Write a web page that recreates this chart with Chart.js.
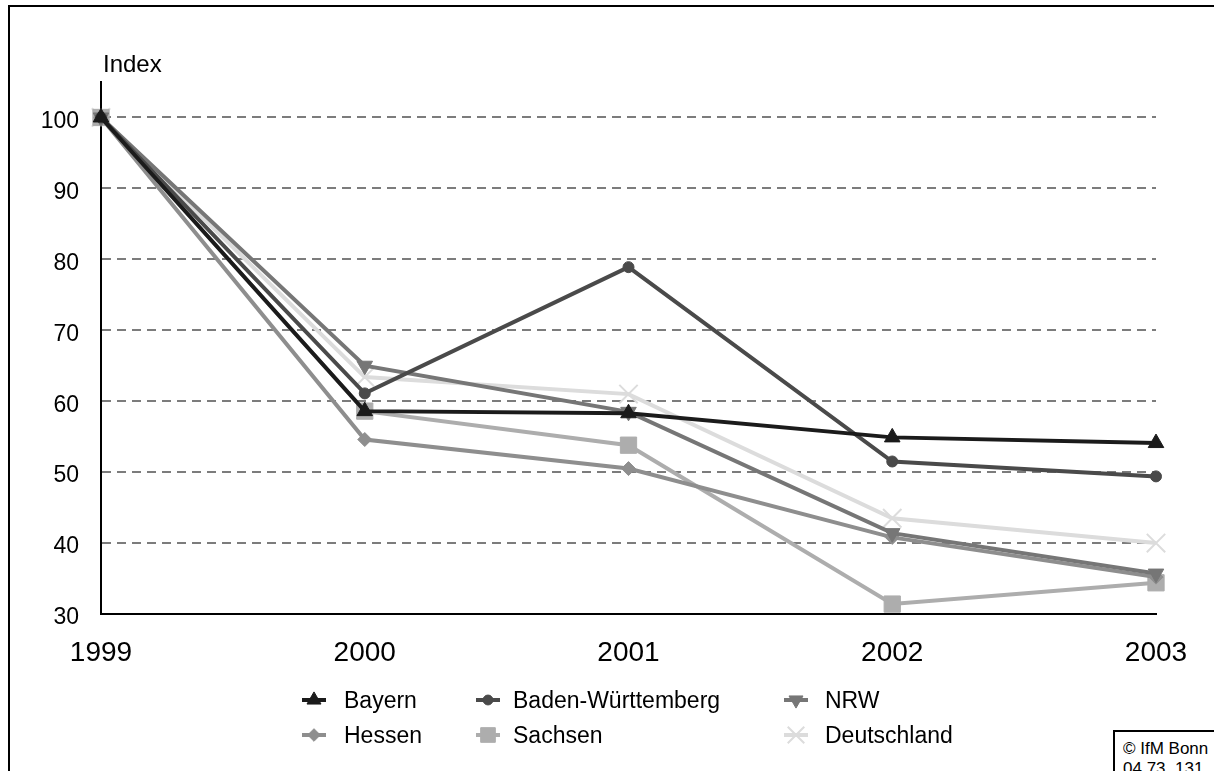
<!DOCTYPE html>
<html>
<head>
<meta charset="utf-8">
<title>Index 1999 = 100</title>
<script src="https://cdn.jsdelivr.net/npm/chart.js@4/dist/chart.umd.min.js"></script>
<style>
  html, body { margin: 0; padding: 0; background: #fff; }
  #wrap { position: relative; width: 1214px; height: 771px; overflow: hidden;
          font-family: "Liberation Sans", Arial, sans-serif; }
  #frame { position: absolute; left: 8px; top: 5px; width: 1300px; height: 900px;
           border-left: 2px solid #000; border-top: 2px solid #000; }
  #chart { position: absolute; left: 0; top: 0; }
  #credit { position: absolute; left: 1113px; top: 730px; width: 130px; height: 80px;
            border: 2px solid #000; box-sizing: border-box; background: #fff;
            padding: 7px 0 0 8px; font-size: 17px; line-height: 20px; color: #000; }
</style>
</head>
<body>
<div id="wrap">
  <div id="frame"></div>
  <canvas id="chart" width="1214" height="771"></canvas>
  <div id="credit">© IfM Bonn<br>04.73. 131</div>
</div>
<script>
// Years on the x axis
const years = ['1999', '2000', '2001', '2002', '2003'];

// Index values (1999 = 100) per region
const bayern            = [100, 58.6, 58.3, 54.9, 54.1];
const badenWuerttemberg = [100, 61.1, 78.9, 51.5, 49.4];
const nrw               = [100, 65.0, 58.5, 41.4, 35.7];
const hessen            = [100, 54.6, 50.5, 40.8, 35.2];
const sachsen           = [100, 58.6, 53.8, 31.4, 34.4];
const deutschland       = [100, 63.4, 61.0, 43.5, 40.0];

const seriesNames = ['Bayern', 'Baden-Württemberg', 'NRW', 'Hessen', 'Sachsen', 'Deutschland'];

// Labelled y ticks
const yTickValues = [30, 40, 50, 60, 70, 80, 90, 100];
const yAxisTitle = 'Index';

const FONT = '"Liberation Sans", Arial, sans-serif';

function series(label, data, color, style, radius, extra) {
  return Object.assign({
    label, data,
    borderColor: color,
    backgroundColor: color,
    borderWidth: 4,
    pointStyle: style,
    pointRadius: radius,
    pointHoverRadius: radius,
    pointBackgroundColor: color,
    pointBorderColor: color,
    pointBorderWidth: 1,
    tension: 0,
    clip: false
  }, extra || {});
}

const datasets = [
  series(seriesNames[0], bayern,            '#1b1b1b', 'triangle', 9),
  series(seriesNames[1], badenWuerttemberg, '#4a4a4a', 'circle',   5.5),
  series(seriesNames[2], nrw,               '#767676', 'triangle', 9, { pointRotation: 180 }),
  series(seriesNames[3], hessen,            '#8e8e8e', 'rectRot',  7),
  series(seriesNames[4], sachsen,           '#adadad', 'rect',     11.5),
  series(seriesNames[5], deutschland,       '#dcdcdc', 'crossRot', 13, { pointBorderWidth: 2 })
];

// Marker painter for the legend (uses the library helper when available)
function paintPoint(ctx, ds, x, y, scale) {
  const h = Chart.helpers;
  const opts = {
    pointStyle: ds.pointStyle,
    rotation: ds.pointRotation || 0,
    radius: ds.pointRadius * scale,
    borderWidth: ds.pointBorderWidth
  };
  ctx.save();
  ctx.fillStyle = ds.pointBackgroundColor;
  ctx.strokeStyle = ds.pointBorderColor;
  ctx.lineWidth = ds.pointBorderWidth;
  if (h && h.drawPoint) {
    h.drawPoint(ctx, opts, x, y);
  } else {
    ctx.beginPath();
    ctx.arc(x, y, opts.radius, 0, Math.PI * 2);
    ctx.fill();
  }
  ctx.restore();
}

// Axis caption and the two-row legend
const decorations = {
  id: 'decorations',
  afterDraw(chart) {
    const ctx = chart.ctx;
    ctx.save();
    ctx.fillStyle = '#000';
    ctx.font = '24px ' + FONT;
    ctx.textAlign = 'left';
    ctx.textBaseline = 'alphabetic';
    ctx.fillText(yAxisTitle, chart.chartArea.left + 2, 72);

    const colMarker = [314, 488, 796];
    const colText = [344, 513, 825];
    const rowMid = [700, 735];
    const rowBase = [708, 743];
    chart.data.datasets.forEach((ds, i) => {
      const col = i % 3, row = Math.floor(i / 3);
      const mx = colMarker[col], my = rowMid[row];
      ctx.save();
      ctx.strokeStyle = ds.borderColor;
      ctx.lineWidth = 4;
      ctx.beginPath();
      ctx.moveTo(mx - 12, my);
      ctx.lineTo(mx + 12, my);
      ctx.stroke();
      ctx.restore();
      paintPoint(ctx, ds, mx, my, 0.9);

      ctx.save();
      ctx.font = '23px ' + FONT;
      ctx.fillStyle = '#000';
      ctx.textAlign = 'left';
      ctx.textBaseline = 'alphabetic';
      ctx.fillText(ds.label, colText[col], rowBase[row]);
      ctx.restore();
    });
    ctx.restore();
  }
};

new Chart(document.getElementById('chart'), {
  type: 'line',
  data: { labels: years, datasets },
  plugins: [decorations],
  options: {
    responsive: false,
    animation: false,
    events: [],
    layout: { padding: { left: 0, top: 82, right: 58, bottom: 97 } },
    plugins: { legend: { display: false }, tooltip: { enabled: false }, title: { display: false } },
    scales: {
      x: {
        type: 'category',
        offset: false,
        grid: { display: false, drawTicks: false },
        border: { display: true, color: '#000', width: 2 },
        ticks: { color: '#000', font: { family: FONT, size: 28 }, padding: 22, maxRotation: 0, autoSkip: false },
        afterFit(scale) { scale.height = 60; }
      },
      y: {
        min: 30,
        max: 105,
        grid: {
          drawTicks: false,
          lineWidth: 2,
          color: (c) => (c.tick && c.tick.value === 30 ? 'rgba(0,0,0,0)' : '#7c7c7c')
        },
        border: { display: true, color: '#000', width: 2, dash: [9, 6] },
        ticks: { color: '#000', font: { family: FONT, size: 23 }, padding: 22, labelOffset: 4 },
        afterBuildTicks(scale) { scale.ticks = yTickValues.map(v => ({ value: v })); },
        afterFit(scale) { scale.width = 101; }
      }
    }
  }
});
</script>
</body>
</html>
